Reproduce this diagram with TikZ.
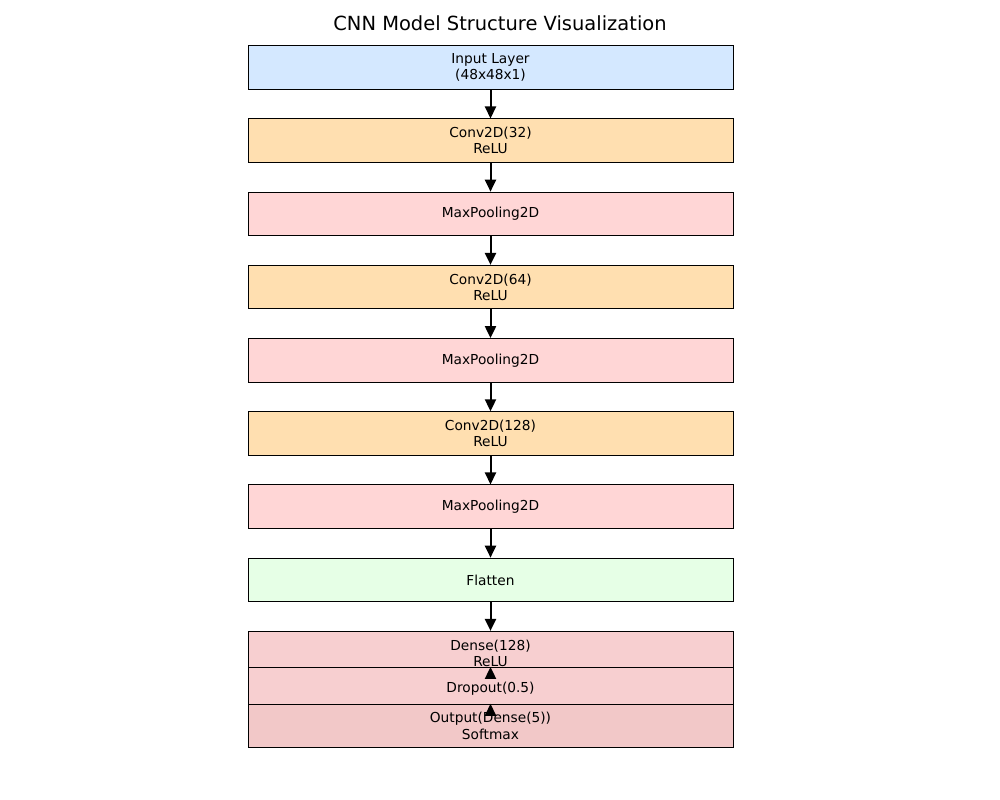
\documentclass[tikz,border=0pt]{standalone}
\usepackage{fontspec}
\setmainfont{DejaVu Sans}
\usetikzlibrary{arrows.meta}
\definecolor{cInput}{HTML}{D4E8FF}
\definecolor{cConv}{HTML}{FFDFB0}
\definecolor{cPool}{HTML}{FFD6D6}
\definecolor{cFlat}{HTML}{E6FFE6}
\definecolor{cDense}{HTML}{F7CFD0}
\definecolor{cDrop}{HTML}{F7CFD0}
\definecolor{cOut}{HTML}{F2C8C8}
\tikzset{
  layer/.style={draw=black, line width=0.75pt, minimum width=363.75pt, minimum height=32.6pt,
    inner sep=0pt, align=center, font=\fontsize{10.3}{12.2}\selectfont},
  flow/.style={line width=1.5pt, -{Triangle[length=9pt,width=8.3pt]}},
}
\begin{document}
\begin{tikzpicture}[x=0.75pt,y=-0.75pt]
\useasboundingbox (0,0) rectangle (1000,800);
\node (title) at (500,23) {\fontsize{14.6}{16}\selectfont CNN Model Structure Visualization};
\node[layer, fill=cInput] (in) at (490.5,67.5) {Input Layer\\(48x48x1)};
\node[layer, fill=cConv] (c1) at (490.5,140.7) {Conv2D(32)\\ReLU};
\node[layer, fill=cPool] (p1) at (490.5,213.9) {MaxPooling2D};
\node[layer, fill=cConv] (c2) at (490.5,287.1) {Conv2D(64)\\ReLU};
\node[layer, fill=cPool] (p2) at (490.5,360.3) {MaxPooling2D};
\node[layer, fill=cConv] (c3) at (490.5,433.5) {Conv2D(128)\\ReLU};
\node[layer, fill=cPool] (p3) at (490.5,506.7) {MaxPooling2D};
\node[layer, fill=cFlat] (fl) at (490.5,579.9) {Flatten};
\node[layer, fill=cDense] (de) at (490.5,653.1) {Dense(128)\\ReLU};
\node[layer, fill=cDrop] (dr) at (490.5,689.2) {Dropout(0.5)};
\node[layer, fill=cOut] (out) at (490.5,726) {Output(Dense(5))\\Softmax};
\draw[flow] (in.south) -- (c1.north);
\draw[flow] (c1.south) -- (p1.north);
\draw[flow] (p1.south) -- (c2.north);
\draw[flow] (c2.south) -- (p2.north);
\draw[flow] (p2.south) -- (c3.north);
\draw[flow] (c3.south) -- (p3.north);
\draw[flow] (p3.south) -- (fl.north);
\draw[flow] (fl.south) -- (de.north);
\draw[flow] (de.south) -- (dr.north);
\draw[flow] (dr.south) -- (out.north);
\end{tikzpicture}
\end{document}
